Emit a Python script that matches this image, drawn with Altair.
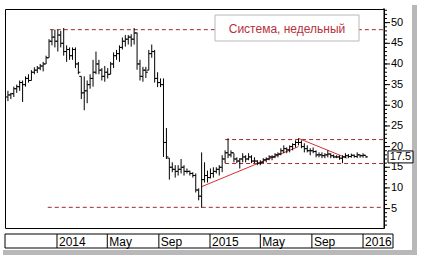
import altair as alt
import pandas as pd

# ---- data (weekly OHLC) ----
first_week = "2013-09-06"
highs = [33.5,33.0,34.5,35.0,36.0,36.0,37.0,37.5,38.5,39.2,39.5,40.0,40.5,42.0,46.0,48.3,48.3,
         48.3,48.0,48.7,44.5,44.0,44.0,44.0,40.5,37.0,37.0,36.0,37.5,41.0,43.0,41.0,39.0,39.5,39.0,40.5,
         42.8,43.4,44.5,46.4,47.0,47.0,47.2,48.7,47.6,41.0,39.3,39.3,43.4,44.7,43.4,38.0,36.5,36.5,
         24.5,17.2,16.2,15.5,15.5,17.0,15.5,14.7,14.2,13.8,13.5,9.9,18.6,16.2,14.2,14.7,15.0,15.0,
         15.5,17.9,19.1,22.0,19.1,18.4,17.4,17.2,18.4,17.9,18.4,17.9,17.4,16.7,16.7,17.2,17.4,17.9,17.9,18.4,
         18.6,19.6,20.3,19.8,20.3,20.8,21.5,22.0,21.5,20.8,20.3,19.6,19.8,19.1,18.6,18.6,18.4,19.1,
         18.4,18.1,17.9,17.9,17.9,18.4,18.2,18.3,18.1,18.6,18.1,18.4,17.8]
lows = [31.0,31.5,32.0,33.0,33.5,30.8,34.5,35.5,36.0,37.5,37.8,38.5,38.2,40.0,41.5,44.5,44.0,
        43.0,44.0,42.0,40.5,41.0,41.0,39.0,37.5,31.5,28.8,30.5,34.0,34.5,37.5,37.5,36.0,35.7,36.5,37.5,
        39.0,41.0,40.5,43.5,44.2,44.7,44.2,44.7,38.6,36.0,35.7,36.6,38.5,41.5,35.5,34.4,34.4,17.5,
        17.0,12.0,13.8,12.5,13.0,13.5,13.0,13.5,13.0,12.5,8.9,7.0,5.2,11.3,11.3,12.3,12.5,13.5,
        13.0,13.8,16.0,17.2,17.4,16.2,16.0,14.7,16.2,16.2,16.7,16.0,16.0,15.5,15.5,16.0,16.2,16.7,16.7,17.2,
        17.4,17.9,18.4,18.4,18.6,19.1,19.8,20.3,19.6,18.6,18.6,17.9,18.4,17.4,17.4,17.2,17.2,17.4,
        17.2,17.2,17.2,16.8,16.0,17.2,17.2,17.3,17.3,17.2,17.3,17.3,17.3]
opens = [32.0,32.5,32.8,34.0,34.5,35.5,35.0,36.5,36.0,38.0,38.5,39.0,39.5,40.0,41.5,45.5,46.5,
         45.5,47.0,45.0,43.0,43.5,42.0,43.5,40.0,37.0,33.0,33.5,35.0,36.5,38.0,40.0,38.5,37.0,38.0,37.5,
         40.0,42.0,42.5,44.0,45.5,46.0,46.5,46.0,47.5,40.0,37.0,38.5,38.5,42.5,43.0,36.5,35.5,35.0,
         21.0,17.2,15.0,14.5,14.0,14.5,15.0,14.0,14.0,13.5,13.0,9.5,8.0,12.0,13.0,12.5,13.5,14.0,
         14.5,15.0,17.0,18.5,18.0,18.5,17.0,16.5,17.0,17.5,17.0,17.5,16.5,16.5,16.0,16.2,16.8,17.0,17.5,17.5,
         18.0,18.2,19.0,19.5,19.2,20.0,20.5,21.0,21.0,20.0,19.5,19.0,19.0,18.8,18.0,18.0,17.8,18.0,
         18.2,17.8,17.5,17.5,17.2,17.5,17.8,17.6,17.9,17.6,18.0,17.8,17.9]
closes = [32.5,32.8,34.0,34.5,35.5,35.0,36.5,36.0,38.0,38.5,39.0,39.5,40.0,41.5,45.5,46.5,45.5,
          47.0,45.0,43.0,43.5,42.0,43.5,40.0,38.0,33.0,33.5,35.0,36.5,38.0,40.0,38.5,37.0,38.0,37.5,40.0,
          42.0,42.5,44.0,45.5,46.0,46.5,46.0,47.5,40.0,37.0,38.5,38.0,42.5,43.0,36.5,35.5,35.0,21.0,
          17.5,15.0,14.5,14.0,14.5,15.0,14.0,14.0,13.5,13.0,9.5,8.0,12.0,13.0,12.5,13.5,14.0,14.5,
          15.0,17.0,18.5,18.0,18.5,17.0,16.5,17.0,17.5,17.0,17.5,16.5,16.5,16.0,16.2,16.8,17.0,17.5,17.5,18.0,
          18.2,19.0,19.5,19.2,20.0,20.5,21.0,21.0,20.0,19.5,19.0,19.0,18.8,18.0,18.0,17.8,18.0,18.2,
          17.8,17.5,17.5,17.2,17.5,17.8,17.6,17.9,17.6,18.0,17.8,17.9,17.5]

# horizontal levels (start date, level)
level_starts = ["2013-12-15", "2013-12-10", "2015-02-06", "2015-02-06"]
level_values = [48.3, 5.3, 21.7, 15.9]
level_end = "2016-02-20"

# trend lines
trend_x1 = ["2014-12-12", "2015-07-31"]
trend_y1 = [10.3, 22.0]
trend_x2 = ["2015-07-31", "2015-11-24"]
trend_y2 = [20.0, 17.2]

# price axis
axis_ticks = list(range(1, 54))
axis_labels = [5, 10, 15, 20, 25, 30, 35, 40, 45, 50]

# time-axis labels
tick_dates = ["2014-01-01", "2014-05-01", "2014-09-01", "2015-01-01",
              "2015-05-01", "2015-09-01", "2016-01-01"]
tick_labels = ["2014", "May", "Sep", "2015", "May", "Sep", "2016"]

title_text = "Система, недельный"
last_price = closes[-1]

# ---- tables ----
dates = pd.date_range(first_week, periods=len(closes), freq="7D")
df = pd.DataFrame({"date": dates, "open": opens, "high": highs, "low": lows, "close": closes})
lv = pd.DataFrame({"x1": pd.to_datetime(level_starts), "x2": pd.to_datetime([level_end] * 4),
                   "y": level_values})
tr = pd.DataFrame({"x1": pd.to_datetime(trend_x1), "x2": pd.to_datetime(trend_x2),
                   "y1": trend_y1, "y2": trend_y2})
tk = pd.DataFrame({"d": pd.to_datetime(tick_dates), "lab": tick_labels})
ax_minor = pd.DataFrame({"v": axis_ticks})
ax_major = pd.DataFrame({"v": axis_labels, "lab": [str(v) for v in axis_labels]})
one = pd.DataFrame({"a": [0]})
price = pd.DataFrame({"p": [last_price], "lab": [f"{last_price:.1f}"],
                      "lo": [last_price - 1.45], "hi": [last_price + 1.45]})

FONT = "Liberation Sans"
xscale = alt.Scale(domain=[alt.DateTime(year=2013, month=8, date=30),
                           alt.DateTime(year=2016, month=2, date=20)])
yscale = alt.Scale(domain=[0.3, 53.3], nice=False, zero=False)


def Y(field):
    return alt.Y(field, scale=yscale, axis=None)


def X(field):
    return alt.X(field, scale=xscale, axis=None)


# soft shadow of the picture frame (right and bottom)
shadow_r = alt.Chart(one).mark_rule(color="#b8b8b8", strokeWidth=5).encode(
    x=alt.value(409.5), y=alt.value(-4), y2=alt.value(246))
shadow_b = alt.Chart(one).mark_rule(color="#b8b8b8", strokeWidth=5).encode(
    x=alt.value(-2), x2=alt.value(412), y=alt.value(243.5))

levels = alt.Chart(lv).mark_rule(color="#a52a2a", strokeDash=[4, 3], strokeWidth=1).encode(
    x=X("x1:T"), x2="x2:T", y=Y("y:Q"))

trends = alt.Chart(tr).mark_rule(color="#d83030", strokeWidth=1).encode(
    x=X("x1:T"), x2="x2:T", y=Y("y1:Q"), y2="y2:Q")

hl = alt.Chart(df).mark_rule(color="black", strokeWidth=1).encode(
    x=X("date:T"), y=Y("low:Q"), y2="high:Q")
op = alt.Chart(df).mark_rule(color="black", strokeWidth=1, x2Offset=-2).encode(
    x=X("date:T"), x2="date:T", y=Y("open:Q"))
cl = alt.Chart(df).mark_rule(color="black", strokeWidth=1, x2Offset=2).encode(
    x=X("date:T"), x2="date:T", y=Y("close:Q"))

# price axis on the right
ax_line = alt.Chart(one).mark_rule(color="black", strokeWidth=1).encode(
    x=alt.value(379), y=alt.value(-1), y2=alt.value(219))
minor = alt.Chart(ax_minor).mark_rule(color="black", strokeWidth=1).encode(
    x=alt.value(379), x2=alt.value(382), y=Y("v:Q"))
major = alt.Chart(ax_major).mark_rule(color="black", strokeWidth=1).encode(
    x=alt.value(379), x2=alt.value(385), y=Y("v:Q"))
major_lab = alt.Chart(ax_major).mark_text(font=FONT, fontSize=11, color="black", align="left",
                                          baseline="middle").encode(
    x=alt.value(386), y=Y("v:Q"), text="lab:N")

# title box
tbox = alt.Chart(one).mark_rect(fill="white", stroke="#b8b8b8", strokeWidth=1).encode(
    x=alt.value(210), x2=alt.value(354), y=alt.value(6), y2=alt.value(32))
ttext = alt.Chart(one).mark_text(text=title_text, font=FONT, fontSize=12, color="#b8303c",
                                 align="center", baseline="middle").encode(
    x=alt.value(282), y=alt.value(19.5))

# last price box
pbox = alt.Chart(price).mark_rect(fill="white", stroke="black", strokeWidth=1).encode(
    x=alt.value(383), x2=alt.value(408), y=Y("lo:Q"), y2="hi:Q")
ptext = alt.Chart(price).mark_text(font=FONT, fontSize=11, color="black",
                                   align="center", baseline="middle").encode(
    x=alt.value(395.5), y=Y("p:Q"), text="lab:N")

# time band below plot
band = alt.Chart(one).mark_rect(fill="white", stroke="black", strokeWidth=1).encode(
    x=alt.value(0), x2=alt.value(388), y=alt.value(225), y2=alt.value(239))
seps = alt.Chart(tk).mark_rule(color="black", strokeWidth=1).encode(
    x=X("d:T"), y=alt.value(225), y2=alt.value(239))
labs = alt.Chart(tk).mark_text(font=FONT, fontSize=12, color="black", align="left",
                               baseline="middle", dx=2).encode(
    x=X("d:T"), y=alt.value(232.5), text="lab:N")

chart = alt.layer(shadow_r, shadow_b, levels, trends, hl, op, cl,
                  ax_line, minor, major, major_lab,
                  tbox, ttext, pbox, ptext, band, seps, labs).properties(
    width=379, height=219,
    autosize=alt.AutoSizeParams(type="none"),
    padding={"left": 5, "top": 9, "right": 40, "bottom": 30},
    background="white",
).configure_view(stroke="black", strokeWidth=1)

chart.save("out.html", embed_options={"renderer": "svg", "actions": False})
